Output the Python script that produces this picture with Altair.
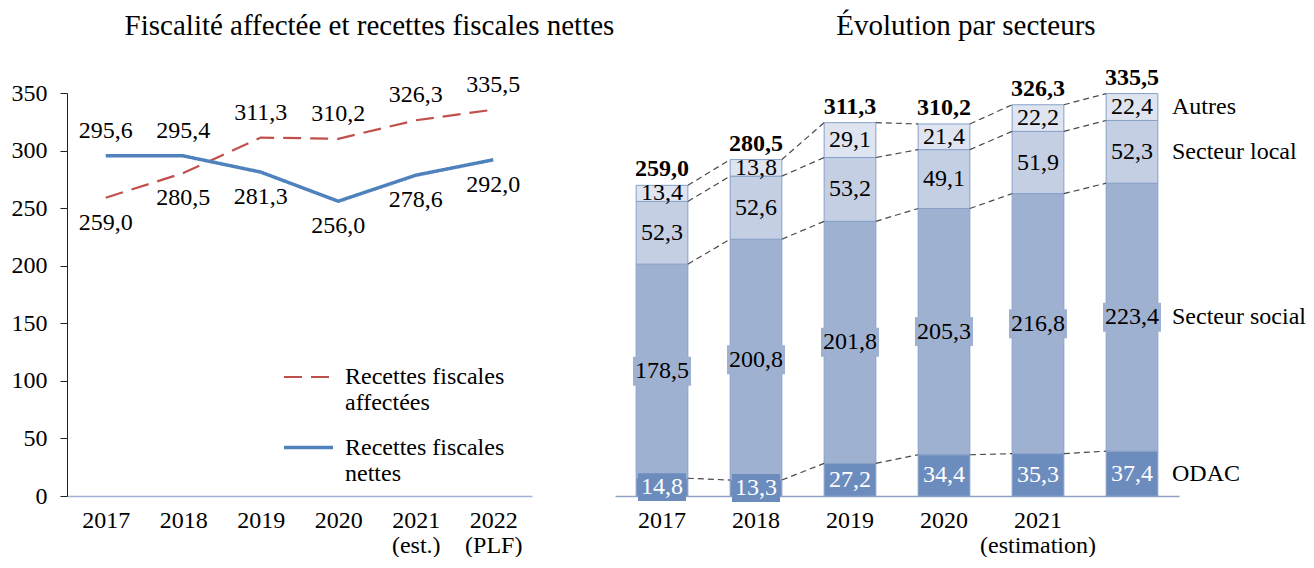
import json
import altair as alt
import pandas as pd

FONT = "Liberation Serif"
FS = 24

# ---------------- data ----------------
years = ["2017", "2018", "2019", "2020", "2021", "2022"]
titles = ["Fiscalité affectée et recettes fiscales nettes", "Évolution par secteurs"]

# left chart
series_names = ["Recettes fiscales affectées", "Recettes fiscales nettes"]
series_legend_lines = [["Recettes fiscales", "affectées"], ["Recettes fiscales", "nettes"]]
affectees = [259.0, 280.5, 311.3, 310.2, 326.3, 335.5]
nettes = [295.6, 295.4, 281.3, 256.0, 278.6, 292.0]
left_tick_labels = [["2017"], ["2018"], ["2019"], ["2020"], ["2021", "(est.)"], ["2022", "(PLF)"]]
left_y_ticks = [0, 50, 100, 150, 200, 250, 300, 350]

# right chart
sectors = ["ODAC", "Secteur social", "Secteur local", "Autres"]
odac = [14.8, 13.3, 27.2, 34.4, 35.3, 37.4]
social = [178.5, 200.8, 201.8, 205.3, 216.8, 223.4]
local = [52.3, 52.6, 53.2, 49.1, 51.9, 52.3]
autres = [13.4, 13.8, 29.1, 21.4, 22.2, 22.4]
totals = [259.0, 280.5, 311.3, 310.2, 326.3, 335.5]
right_tick_labels = [["2017"], ["2018"], ["2019"], ["2020"], ["2021", "(estimation)"], [""]]

sector_colors = ["#6d8cbe", "#9fb1d0", "#c4cfe4", "#dee4f0"]
series_colors = ["#c0504d", "#4f81bd"]

LW, LH = 465, 403
RW, RH = 564, 403


def fr(v):
    return f"{v:.1f}".replace(".", ",")


def tick_expr(labels, key="datum.value"):
    expr = "''"
    for y, lab in reversed(list(zip(years, labels))):
        expr = f"{key} == '{y}' ? {json.dumps(lab)} : ({expr})"
    return expr


def title_layer(text, xpos):
    return alt.Chart(pd.DataFrame({"t": [text]})).mark_text(
        fontSize=29, font=FONT, color="black", baseline="alphabetic", align="center"
    ).encode(x=alt.value(xpos), y=alt.value(-58), text="t:N")


# ---------------- left chart ----------------
rows = []
for i, y in enumerate(years):
    a, n = affectees[i], nettes[i]
    rows.append(dict(year=y, series=series_names[0], value=a, label=fr(a),
                     pos="above" if a >= n else "below"))
    rows.append(dict(year=y, series=series_names[1], value=n, label=fr(n),
                     pos="above" if n > a else "below"))
df_left = pd.DataFrame(rows)

legend_expr = "''"
for name, lns in reversed(list(zip(series_names, series_legend_lines))):
    legend_expr = f"datum.label == '{name}' ? {json.dumps(lns)} : ({legend_expr})"

x_left = alt.X(
    "year:N", sort=years, title=None,
    scale=alt.Scale(padding=0.5),
    axis=alt.Axis(labelExpr=tick_expr(left_tick_labels), labelAngle=0, ticks=False,
                  domainColor="#9fb3d3", domainWidth=1.5, labelPadding=12,
                  labelFontSize=FS, labelColor="black", labelLineHeight=25,
                  labelFont=FONT),
)
y_left = alt.Y(
    "value:Q", title=None,
    scale=alt.Scale(domain=[0, 350], nice=False),
    axis=alt.Axis(values=left_y_ticks, grid=False, domainColor="#222", tickColor="#222",
                  tickSize=7, labelPadding=13, labelFontSize=FS, labelColor="black",
                  labelFont=FONT),
)

left_legend = alt.Legend(title=None, orient="none", legendX=215, legendY=258,
                         symbolType="stroke", symbolSize=2400, symbolStrokeWidth=3,
                         labelExpr=legend_expr, labelFontSize=FS, labelFont=FONT,
                         labelColor="black", labelLimit=400, rowPadding=6,
                         labelOffset=10)

base_left = alt.Chart(df_left)
lines = base_left.mark_line().encode(
    x=x_left, y=y_left,
    color=alt.Color("series:N", scale=alt.Scale(domain=series_names, range=series_colors),
                    legend=left_legend),
    strokeDash=alt.StrokeDash("series:N", scale=alt.Scale(domain=series_names,
                                                          range=[[18, 9], [1, 0]]),
                              legend=left_legend),
    strokeWidth=alt.StrokeWidth("series:N", scale=alt.Scale(domain=series_names, range=[2.2, 3.5]),
                                legend=None),
)
lab_above = base_left.transform_filter("datum.pos == 'above'").mark_text(
    dy=-25, fontSize=FS, font=FONT, color="black").encode(x=x_left, y=y_left, text="label:N")
lab_below = base_left.transform_filter("datum.pos == 'below'").mark_text(
    dy=25, fontSize=FS, font=FONT, color="black").encode(x=x_left, y=y_left, text="label:N")

left = alt.layer(lines, lab_above, lab_below, title_layer(titles[0], LW / 2 + 70)).properties(
    width=LW, height=LH)

# ---------------- right chart ----------------
seg_values = [odac, social, local, autres]
brow = []
for i, y in enumerate(years):
    cum = 0.0
    for s, vals in zip(sectors, seg_values):
        v = vals[i]
        brow.append(dict(year=y, sector=s, value=v, y0=cum, y1=cum + v, mid=cum + v / 2,
                         label=fr(v)))
        cum += v
df_bars = pd.DataFrame(brow)

conn = []
for i in range(len(years) - 1):
    for s in sectors:
        a = df_bars[(df_bars.year == years[i]) & (df_bars.sector == s)].y1.iloc[0]
        b = df_bars[(df_bars.year == years[i + 1]) & (df_bars.sector == s)].y1.iloc[0]
        conn.append(dict(year=years[i], nxt=years[i + 1], ya=a, yb=b))
df_conn = pd.DataFrame(conn)

df_tot = pd.DataFrame(dict(year=years, total=totals, label=[fr(t) for t in totals]))

x_right = alt.X(
    "year:N", sort=years, title=None,
    scale=alt.Scale(paddingInner=0.45, paddingOuter=0.225),
    axis=alt.Axis(labelExpr=tick_expr(right_tick_labels), labelAngle=0, ticks=False,
                  domainColor="#8fa3c4", domainWidth=1.5, labelPadding=12,
                  labelFontSize=FS, labelColor="black", labelLineHeight=25, labelFont=FONT),
)
y_scale_r = alt.Scale(domain=[0, 336], nice=False)
color_r = alt.Color("sector:N", scale=alt.Scale(domain=sectors, range=sector_colors), legend=None)
x_r = alt.X("year:N", sort=years)

bars = alt.Chart(df_bars).mark_bar(stroke="#87a0c9", strokeWidth=1).encode(
    x=x_right,
    y=alt.Y("y0:Q", scale=y_scale_r, axis=None),
    y2="y1:Q",
    color=color_r,
)
connectors = alt.Chart(df_conn).mark_rule(strokeDash=[6, 4], color="#4a4a4a", strokeWidth=1.2).encode(
    x=alt.X("year:N", sort=years, bandPosition=1),
    x2=alt.X2("nxt:N", bandPosition=0),
    y=alt.Y("ya:Q", scale=y_scale_r, axis=None),
    y2="yb:Q",
)
box_social = alt.Chart(df_bars).transform_filter("datum.sector == 'Secteur social'").mark_point(
    shape="M-1,-0.5H1V0.5H-1Z", filled=True, opacity=1, size=3364, strokeWidth=0).encode(
    x=x_r, y=alt.Y("mid:Q", scale=y_scale_r, axis=None), color=color_r)
box_odac = alt.Chart(df_bars).transform_filter("datum.sector == 'ODAC'").mark_point(
    shape="M-1,-0.58H1V0.58H-1Z", filled=True, opacity=1, size=2304, strokeWidth=0).encode(
    x=x_r, y=alt.Y("mid:Q", scale=y_scale_r, axis=None), color=color_r)
txt_dark = alt.Chart(df_bars).transform_filter("datum.sector != 'ODAC'").mark_text(
    fontSize=FS, font=FONT, color="black").encode(
    x=x_r, y=alt.Y("mid:Q", scale=y_scale_r, axis=None), text="label:N")
txt_light = alt.Chart(df_bars).transform_filter("datum.sector == 'ODAC'").mark_text(
    fontSize=FS, font=FONT, color="white").encode(
    x=x_r, y=alt.Y("mid:Q", scale=y_scale_r, axis=None), text="label:N")
tot_txt = alt.Chart(df_tot).mark_text(
    fontSize=FS, font=FONT, fontWeight="bold", color="black", baseline="bottom", dy=-4).encode(
    x=x_r, y=alt.Y("total:Q", scale=y_scale_r, axis=None), text="label:N")
sect_txt = alt.Chart(df_bars).transform_filter(f"datum.year == '{years[-1]}'").mark_text(
    fontSize=FS, font=FONT, color="black", align="left", dx=40).encode(
    x=x_r, y=alt.Y("mid:Q", scale=y_scale_r, axis=None), text="sector:N")

right = alt.layer(bars, connectors, box_social, box_odac, txt_dark, txt_light, tot_txt, sect_txt,
                  title_layer(titles[1], RW / 2 + 69)).properties(width=RW, height=RH)

chart = alt.hconcat(left, right, spacing=0).resolve_scale(
    color="independent", strokeDash="independent", strokeWidth="independent"
).resolve_legend(color="independent", strokeDash="independent").properties(
    padding={"left": 3, "top": 4, "right": 0, "bottom": 0}
).configure(font=FONT).configure_view(stroke="transparent", strokeWidth=0)

chart.save("out.html", embed_options={"renderer": "svg", "actions": False})
